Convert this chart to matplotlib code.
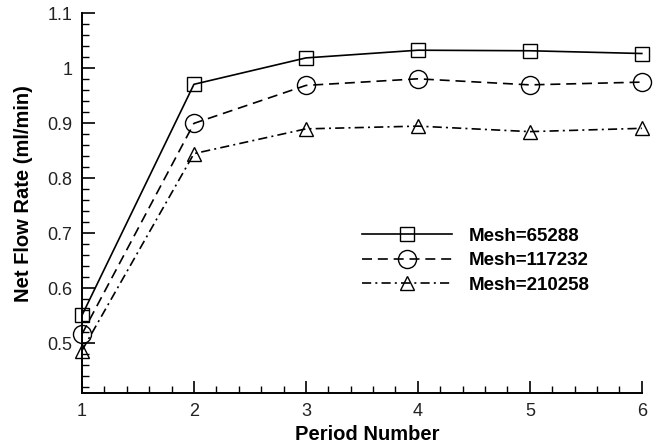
import numpy as np
import matplotlib.pyplot as plt
from matplotlib.ticker import MultipleLocator

plt.rcParams['font.family'] = ['Liberation Sans', 'DejaVu Sans']

period = [1, 2, 3, 4, 5, 6]
mesh_65288 = [0.551, 0.971, 1.019, 1.033, 1.032, 1.027]
mesh_117232 = [0.517, 0.900, 0.969, 0.981, 0.970, 0.975]
mesh_210258 = [0.487, 0.845, 0.890, 0.895, 0.885, 0.891]

fig = plt.figure(figsize=(6.61, 4.45), dpi=100)
ax = fig.add_axes([0.124, 0.117, 0.847, 0.853])

ax.plot(period, mesh_65288, color='black', lw=1.2, ls='-',
        marker='s', ms=9.5, mfc='none', mew=1.0, clip_on=False,
        label='Mesh=65288')
ax.plot(period, mesh_117232, color='black', lw=1.2, ls=(0, (6, 3.5)),
        marker='o', ms=13, mfc='none', mew=1.0, clip_on=False,
        label='Mesh=117232')
ax.plot(period, mesh_210258, color='black', lw=1.2, ls=(0, (5.5, 2.5, 1.2, 2.5)),
        marker='^', ms=10, mfc='none', mew=1.0, clip_on=False,
        label='Mesh=210258')

ax.set_xlim(1, 6)
ax.set_ylim(0.41, 1.1)
ax.xaxis.set_major_locator(MultipleLocator(1))
ax.xaxis.set_minor_locator(MultipleLocator(0.2))
ax.yaxis.set_major_locator(MultipleLocator(0.1))
ax.yaxis.set_minor_locator(MultipleLocator(0.02))
ax.yaxis.set_major_formatter(plt.FuncFormatter(lambda v, p: f'{v:g}'))

ax.spines['top'].set_visible(False)
ax.spines['right'].set_visible(False)
ax.spines['left'].set_linewidth(1.4)
ax.spines['bottom'].set_linewidth(1.4)
ax.tick_params(which='major', direction='in', length=9, width=1.2,
               labelsize=13, labelcolor='#222222')
ax.tick_params(axis='x', which='major', pad=7)
ax.tick_params(axis='y', which='major', pad=7)
ax.tick_params(which='minor', direction='in', length=5, width=1.0)

ax.set_xlabel('Period Number', fontsize=14.5, fontweight='bold')
ax.xaxis.set_label_coords(0.51, -0.085)
ax.set_ylabel('Net Flow Rate (ml/min)', fontsize=14.5, fontweight='bold')
ax.yaxis.set_label_coords(-0.088, 0.525)

ax.legend(loc='upper left', bbox_to_anchor=(0.47, 0.48), frameon=False,
          prop={'size': 13.5, 'weight': 'bold'}, handlelength=4.8,
          handletextpad=0.9, labelspacing=0.4)

fig.savefig('out.png', dpi=100)
